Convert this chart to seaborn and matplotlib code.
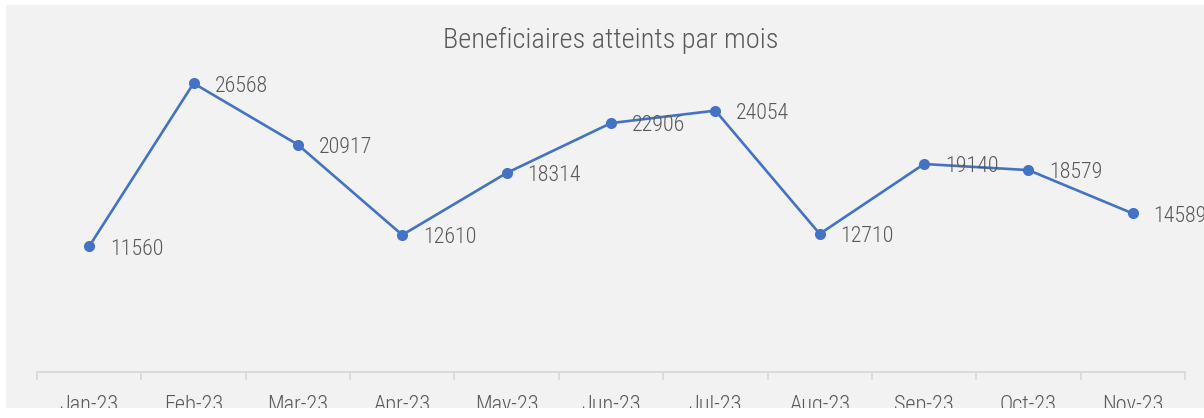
import matplotlib
matplotlib.use("Agg")
import matplotlib.pyplot as plt
import seaborn as sns
import pandas as pd
from matplotlib.patches import Rectangle
from matplotlib.ticker import FixedLocator

months = ["Jan-23", "Feb-23", "Mar-23", "Apr-23", "May-23", "Jun-23",
          "Jul-23", "Aug-23", "Sep-23", "Oct-23", "Nov-23"]
beneficiaires = [11560, 26568, 20917, 12610, 18314, 22906, 24054, 12710, 19140, 18579, 14589]
title = "Beneficiaires atteints par mois"

sns.set_theme(style="white")
plt.rcParams['font.family'] = ['Liberation Sans Narrow', 'Roboto Condensed', 'DejaVu Sans']

W, H = 1204, 418
fig = plt.figure(figsize=(W / 100, H / 100), dpi=100)
fig.patch.set_facecolor("white")
# grey chart panel
fig.patches.append(Rectangle((6 / W, 10 / H), (W - 6) / W, (413 - 10) / H,
                             transform=fig.transFigure, facecolor="#f2f2f2",
                             edgecolor="none", zorder=-1))

ax = fig.add_axes([37 / W, 46 / H, (1185 - 37) / W, (372 - 46) / H])
ax.set_facecolor("none")

df = pd.DataFrame({"idx": range(len(months)), "val": beneficiaires})
sns.lineplot(data=df, x="idx", y="val", ax=ax, color="#4472C4", linewidth=1.9,
             marker="o", markersize=8, markeredgewidth=0, clip_on=False)

ax.set_xlim(-0.5, len(months) - 0.5)
ax.set_ylim(0, 30000)
ax.set_xlabel("")
ax.set_ylabel("")
ax.set_yticks([])
ax.set_xticks(range(len(months)))
ax.set_xticklabels(months, fontsize=16, color="#595959", fontweight="light")
ax.xaxis.set_minor_locator(FixedLocator([i - 0.5 for i in range(len(months) + 1)]))
ax.tick_params(axis="x", which="major", bottom=True, length=0, pad=16.5)
ax.tick_params(axis="x", which="minor", bottom=True, length=6, width=1.3,
               color="#d9d9d9", direction="out")
for s in ["top", "right", "left"]:
    ax.spines[s].set_visible(False)
ax.spines["bottom"].set_color("#d9d9d9")
ax.spines["bottom"].set_linewidth(1.3)

for i, v in enumerate(beneficiaires):
    ax.annotate(str(v), (i, v), xytext=(15, -2), textcoords="offset points",
                ha="left", va="center", fontsize=15.8, color="#595959",
                fontweight="light", annotation_clip=False)

fig.text(611 / W, 1 - 40 / H, title, ha="center", va="center",
         fontsize=20.5, color="#595959", fontweight="light")

# white strip at the bottom cutting the tick labels
fig.patches.append(Rectangle((0, 0), 1, 10 / H, transform=fig.transFigure,
                             facecolor="white", edgecolor="none", zorder=10))

fig.savefig("out.png", dpi=100, facecolor=fig.get_facecolor())
